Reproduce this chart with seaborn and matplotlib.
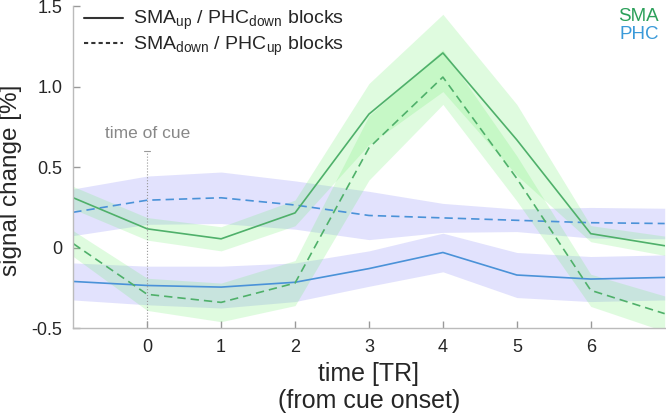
import numpy as np
import pandas as pd
import seaborn as sns
import matplotlib.pyplot as plt
from matplotlib.lines import Line2D

# time points (TR from cue onset)
t = [-1, 0, 1, 2, 3, 4, 5, 6, 7]

# SMA, SMA_up / PHC_down blocks (solid) and SMA_down / PHC_up blocks (dashed)
sma_up = [0.31, 0.117, 0.055, 0.216, 0.83, 1.21, 0.67, 0.087, 0.012]
sma_up_err = [0.07, 0.07, 0.075, 0.08, 0.19, 0.24, 0.22, 0.05, 0.06]
sma_down = [0.025, -0.29, -0.34, -0.22, 0.62, 1.06, 0.43, -0.265, -0.41]
sma_down_err = [0.08, 0.1, 0.12, 0.14, 0.2, 0.17, 0.14, 0.1, 0.11]

# PHC
phc_down = [-0.21, -0.235, -0.245, -0.215, -0.13, -0.03, -0.17, -0.195, -0.185]
phc_down_err = [0.115, 0.12, 0.13, 0.12, 0.11, 0.12, 0.14, 0.14, 0.14]
phc_up = [0.22, 0.295, 0.31, 0.265, 0.2, 0.185, 0.17, 0.155, 0.15]
phc_up_err = [0.145, 0.15, 0.16, 0.15, 0.15, 0.09, 0.07, 0.095, 0.095]

green = '#4fb06a'
blue = '#4a92d8'
green_band = '#70ee70'
blue_band = '#7070f5'

sns.set_style('white')
plt.rcParams['font.family'] = ['Liberation Sans', 'DejaVu Sans']
plt.rcParams['mathtext.fontset'] = 'custom'
plt.rcParams['mathtext.rm'] = 'Liberation Sans'
plt.rcParams['mathtext.it'] = 'Liberation Sans'

fig, ax = plt.subplots(figsize=(6.66, 4.18), dpi=100)
fig.subplots_adjust(left=0.11, right=0.998, bottom=0.215, top=0.985)

# error bands
for m, e, c, a in [(phc_up, phc_up_err, blue_band, 0.2),
                   (phc_down, phc_down_err, blue_band, 0.2),
                   (sma_up, sma_up_err, green_band, 0.22),
                   (sma_down, sma_down_err, green_band, 0.22)]:
    m = np.array(m)
    e = np.array(e)
    ax.fill_between(t, m - e, m + e, color=c, alpha=a, lw=0)

df = pd.DataFrame({'t': t, 'sma_up': sma_up, 'sma_down': sma_down,
                   'phc_up': phc_up, 'phc_down': phc_down})
sns.lineplot(data=df, x='t', y='phc_up', ax=ax, color=blue, lw=1.2, linestyle=(0, (5, 3)))
sns.lineplot(data=df, x='t', y='phc_down', ax=ax, color=blue, lw=1.2)
sns.lineplot(data=df, x='t', y='sma_up', ax=ax, color=green, lw=1.2)
sns.lineplot(data=df, x='t', y='sma_down', ax=ax, color=green, lw=1.2, linestyle=(0, (5, 3)))

# time of cue marker
ax.plot([0, 0], [-0.5, 0.6], color='#999999', lw=0.8, linestyle=':')
ax.plot([-0.04, 0.04], [0.6, 0.6], color='#999999', lw=0.8)
ax.text(0, 0.665, 'time of cue', color='#888888', fontsize=12.5, ha='center', va='bottom')

ax.set_xlim(-1, 7)
ax.set_ylim(-0.5, 1.5)
ax.set_xticks([0, 1, 2, 3, 4, 5, 6])
ax.set_yticks([-0.5, 0, 0.5, 1.0, 1.5])
ax.set_yticklabels(['-0.5', '0', '0.5', '1.0', '1.5'])
ax.tick_params(bottom=True, left=True, direction='in', length=5, width=1.0,
               color='#999999', labelsize=13, pad=8)
ax.set_xlabel('time [TR]\n(from cue onset)', fontsize=18, linespacing=1.15)
ax.set_ylabel('signal change [%]', fontsize=17.5)
ax.yaxis.set_label_coords(-0.086, 0.46)
sns.despine(ax=ax)
for s in ['left', 'bottom']:
    ax.spines[s].set_color('#bbbbbb')
    ax.spines[s].set_linewidth(1.0)

handles = [Line2D([], [], color='#333333', lw=1.5),
           Line2D([], [], color='#333333', lw=1.5, linestyle=(0, (2, 1.5)))]
labels = [r'SMA$_{\mathrm{up}}$ / PHC$_{\mathrm{down}}$ blocks',
          r'SMA$_{\mathrm{down}}$ / PHC$_{\mathrm{up}}$ blocks']
ax.legend(handles, labels, loc='upper left', bbox_to_anchor=(-0.012, 1.045), frameon=False,
          fontsize=14, handlelength=2.0, handletextpad=0.55, labelspacing=0.1)

ax.text(0.99, 0.995, 'SMA', color='#2ca05a', fontsize=13.5, ha='right', va='top', transform=ax.transAxes)
ax.text(0.99, 0.94, 'PHC', color='#3a9ad9', fontsize=13.5, ha='right', va='top', transform=ax.transAxes)

plt.savefig('out.png', dpi=100)
